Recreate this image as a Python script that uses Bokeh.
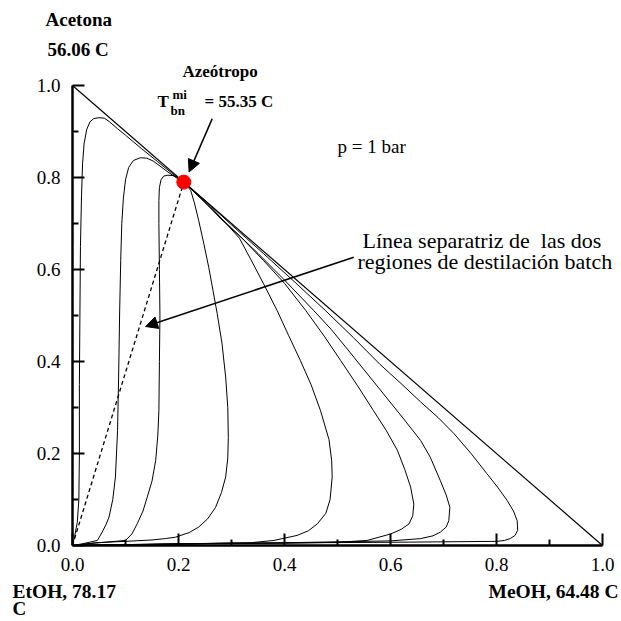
from bokeh.plotting import figure
from bokeh.models import Range1d, FixedTicker, PrintfTickFormatter, Label, Arrow, NormalHead
from bokeh.embed import file_html
from bokeh.resources import INLINE

# ---------------- data ----------------
tick_values = [0.0, 0.2, 0.4, 0.6, 0.8, 1.0]
minor_tick_values = [0.1, 0.3, 0.5, 0.7, 0.9]

azeotrope_x = [0.21]
azeotrope_y = [0.79]

triangle_x = [0.0, 1.0]
triangle_y = [1.0, 0.0]

separatrix_x = [0.0, 0.21]
separatrix_y = [0.0, 0.79]

curve1_x = [0.0, 0.004, 0.009, 0.012, 0.013, 0.013, 0.014, 0.015, 0.017, 0.019, 0.022, 0.027,
            0.033, 0.040, 0.050, 0.060, 0.070, 0.085, 0.100, 0.130, 0.160, 0.190, 0.210]
curve1_y = [0.0, 0.020, 0.050, 0.100, 0.200, 0.350, 0.500, 0.650, 0.760, 0.830, 0.875, 0.905,
            0.921, 0.928, 0.930, 0.929, 0.921, 0.906, 0.892, 0.863, 0.835, 0.807, 0.790]

curve2_x = [0.0, 0.020, 0.047, 0.056, 0.063, 0.069, 0.076, 0.081, 0.085, 0.087, 0.089, 0.091,
            0.093, 0.096, 0.100, 0.106, 0.115, 0.128, 0.140, 0.152, 0.165, 0.180, 0.195, 0.210]
curve2_y = [0.0, 0.004, 0.011, 0.029, 0.045, 0.062, 0.100, 0.149, 0.250, 0.366, 0.510, 0.620,
            0.700, 0.755, 0.795, 0.822, 0.837, 0.843, 0.842, 0.836, 0.825, 0.812, 0.800, 0.790]

curve3_x = [0.0, 0.050, 0.100, 0.112, 0.122, 0.133, 0.141, 0.150, 0.157, 0.161, 0.163, 0.164,
            0.165, 0.164, 0.163, 0.163, 0.164, 0.167, 0.172, 0.180, 0.192, 0.210]
curve3_y = [0.0, 0.006, 0.011, 0.025, 0.047, 0.075, 0.105, 0.140, 0.185, 0.240, 0.293, 0.400,
            0.500, 0.600, 0.700, 0.750, 0.778, 0.795, 0.803, 0.805, 0.804, 0.790]

curve4_x = [0.0, 0.043, 0.100, 0.150, 0.175, 0.194, 0.220, 0.238, 0.255, 0.270, 0.281, 0.289,
            0.293, 0.294, 0.293, 0.289, 0.282, 0.273, 0.265, 0.257, 0.248, 0.238, 0.230, 0.223, 0.210]
curve4_y = [0.0, 0.006, 0.009, 0.012, 0.015, 0.018, 0.028, 0.040, 0.058, 0.083, 0.115, 0.149,
            0.190, 0.235, 0.300, 0.366, 0.440, 0.504, 0.555, 0.605, 0.655, 0.707, 0.745, 0.772, 0.790]

curve5_x = [0.0, 0.100, 0.200, 0.280, 0.336, 0.380, 0.424, 0.445, 0.462, 0.478, 0.486, 0.490,
            0.489, 0.484, 0.468, 0.450, 0.430, 0.408, 0.386, 0.360, 0.335, 0.315, 0.290, 0.260,
            0.235, 0.210]
curve5_y = [0.0, 0.002, 0.003, 0.005, 0.006, 0.011, 0.022, 0.032, 0.047, 0.070, 0.100, 0.149,
            0.185, 0.230, 0.293, 0.350, 0.402, 0.456, 0.511, 0.570, 0.625, 0.668, 0.700, 0.737,
            0.763, 0.790]

curve6_x = [0.0, 0.200, 0.400, 0.500, 0.556, 0.600, 0.620, 0.635, 0.642, 0.644, 0.638, 0.627,
            0.613, 0.592, 0.568, 0.538, 0.506, 0.475, 0.440, 0.400, 0.360, 0.320, 0.280, 0.245, 0.210]
curve6_y = [0.0, 0.003, 0.005, 0.007, 0.011, 0.025, 0.035, 0.047, 0.065, 0.090, 0.127, 0.165,
            0.207, 0.250, 0.293, 0.347, 0.402, 0.455, 0.511, 0.570, 0.620, 0.668, 0.710, 0.752, 0.790]

curve7_x = [0.0, 0.200, 0.400, 0.600, 0.657, 0.680, 0.694, 0.705, 0.710, 0.712, 0.705, 0.694,
            0.675, 0.657, 0.625, 0.590, 0.555, 0.520, 0.488, 0.455, 0.400, 0.350, 0.300, 0.255, 0.210]
curve7_y = [0.0, 0.004, 0.006, 0.010, 0.015, 0.021, 0.029, 0.040, 0.054, 0.083, 0.110, 0.141,
            0.192, 0.228, 0.275, 0.325, 0.375, 0.425, 0.470, 0.511, 0.577, 0.635, 0.690, 0.740, 0.790]

curve8_x = [0.0, 0.300, 0.600, 0.700, 0.801, 0.815, 0.826, 0.835, 0.840, 0.839, 0.832, 0.820,
            0.802, 0.782, 0.752, 0.720, 0.690, 0.657, 0.620, 0.580, 0.530, 0.477, 0.420, 0.360,
            0.300, 0.255, 0.210]
curve8_y = [0.0, 0.005, 0.007, 0.008, 0.009, 0.011, 0.015, 0.022, 0.033, 0.054, 0.075, 0.098,
            0.127, 0.156, 0.200, 0.243, 0.278, 0.312, 0.352, 0.394, 0.452, 0.511, 0.572, 0.635,
            0.697, 0.745, 0.790]

curves = [(curve1_x, curve1_y), (curve2_x, curve2_y), (curve3_x, curve3_y), (curve4_x, curve4_y),
          (curve5_x, curve5_y), (curve6_x, curve6_y), (curve7_x, curve7_y), (curve8_x, curve8_y)]

# ---------------- layout (pixel frame of the unit square) ----------------
W = H = 621
LEFT, RIGHT_PX, TOP, BOTTOM_PX = 72, 602, 85, 545
SX = RIGHT_PX - LEFT     # pixels per unit in x
SY = BOTTOM_PX - TOP     # pixels per unit in y


def dx(px):
    return (px - LEFT) / SX


def dy(py):
    return (BOTTOM_PX - py) / SY


SERIF = "Liberation Serif"

p = figure(width=W, height=H, output_backend="svg", toolbar_location=None,
           x_range=Range1d(dx(0), dx(W)), y_range=Range1d(dy(H), dy(0)),
           min_border=0)
p.outline_line_color = None
p.grid.visible = False
p.background_fill_color = "white"
p.border_fill_color = "white"

for ax in (p.xaxis[0], p.yaxis[0]):
    ax.fixed_location = 0
    ax.bounds = (0, 1)
    ax.ticker = FixedTicker(ticks=tick_values, minor_ticks=minor_tick_values)
    ax.formatter = PrintfTickFormatter(format="%.1f")
    ax.major_tick_in = 12
    ax.major_tick_out = 0
    ax.minor_tick_in = 6
    ax.minor_tick_out = 0
    ax.axis_line_width = 2.5
    ax.major_tick_line_width = 2
    ax.minor_tick_line_width = 2
    ax.axis_line_color = "black"
    ax.major_tick_line_color = "black"
    ax.minor_tick_line_color = "black"
    ax.major_label_text_font = SERIF
    ax.major_label_text_font_size = "19px"
    ax.major_label_text_color = "black"
    ax.major_label_standoff = 12

# triangle edge
p.line(triangle_x, triangle_y, line_color="black", line_width=1.2)

# residue curves
for cx, cy in curves:
    p.line(cx, cy, line_color="black", line_width=1.0, line_join="round")

# separatrix
p.line(separatrix_x, separatrix_y, line_color="black", line_width=1.3, line_dash="4 3")

# azeotrope
p.scatter(azeotrope_x, azeotrope_y, size=14, fill_color="red", line_color="red")


# ---------------- annotations ----------------
def add_label(text, px, py, size_px, bold=False, align="left"):
    # py is the wanted baseline; the rendered baseline sits ~1/3 em lower, so lift it
    p.add_layout(Label(x=dx(px), y=dy(py - 0.34 * size_px), text=text, text_font=SERIF,
                       text_font_size=f"{size_px}px",
                       text_font_style="bold" if bold else "normal",
                       text_align=align, text_baseline="alphabetic", text_color="black"))


add_label("Acetona", 45, 25, 19, bold=True)
add_label("56.06 C", 47, 55, 19, bold=True)
add_label("Azeótropo", 182, 77, 17, bold=True)
add_label("T", 157, 107, 17, bold=True)
add_label("bn", 170, 114, 13, bold=True)
add_label("mi", 172, 98, 13, bold=True)
add_label("= 55.35 C", 204, 107, 17, bold=True)
add_label("p = 1 bar", 337, 152, 19)
add_label("Línea separatriz de\u00a0 las dos", 362, 247, 22)
add_label("regiones de destilación batch", 357, 268, 22)
add_label("EtOH, 78.17", 12, 598, 19.5, bold=True)
add_label("C", 12, 614, 19, bold=True)
add_label("MeOH, 64.48 C", 618, 598, 19.5, bold=True, align="right")

p.add_layout(Arrow(end=NormalHead(size=12, fill_color="black", line_color="black"),
                   x_start=dx(211.7), y_start=dy(118.3), x_end=azeotrope_x[0] + 0.01,
                   y_end=azeotrope_y[0] + 0.022, line_color="black", line_width=1.6))
p.add_layout(Arrow(end=NormalHead(size=12, fill_color="black", line_color="black"),
                   x_start=dx(353.3), y_start=dy(256.7), x_end=dx(145), y_end=dy(326),
                   line_color="black", line_width=1.6))

open("out.html", "w").write(file_html(p, INLINE))
